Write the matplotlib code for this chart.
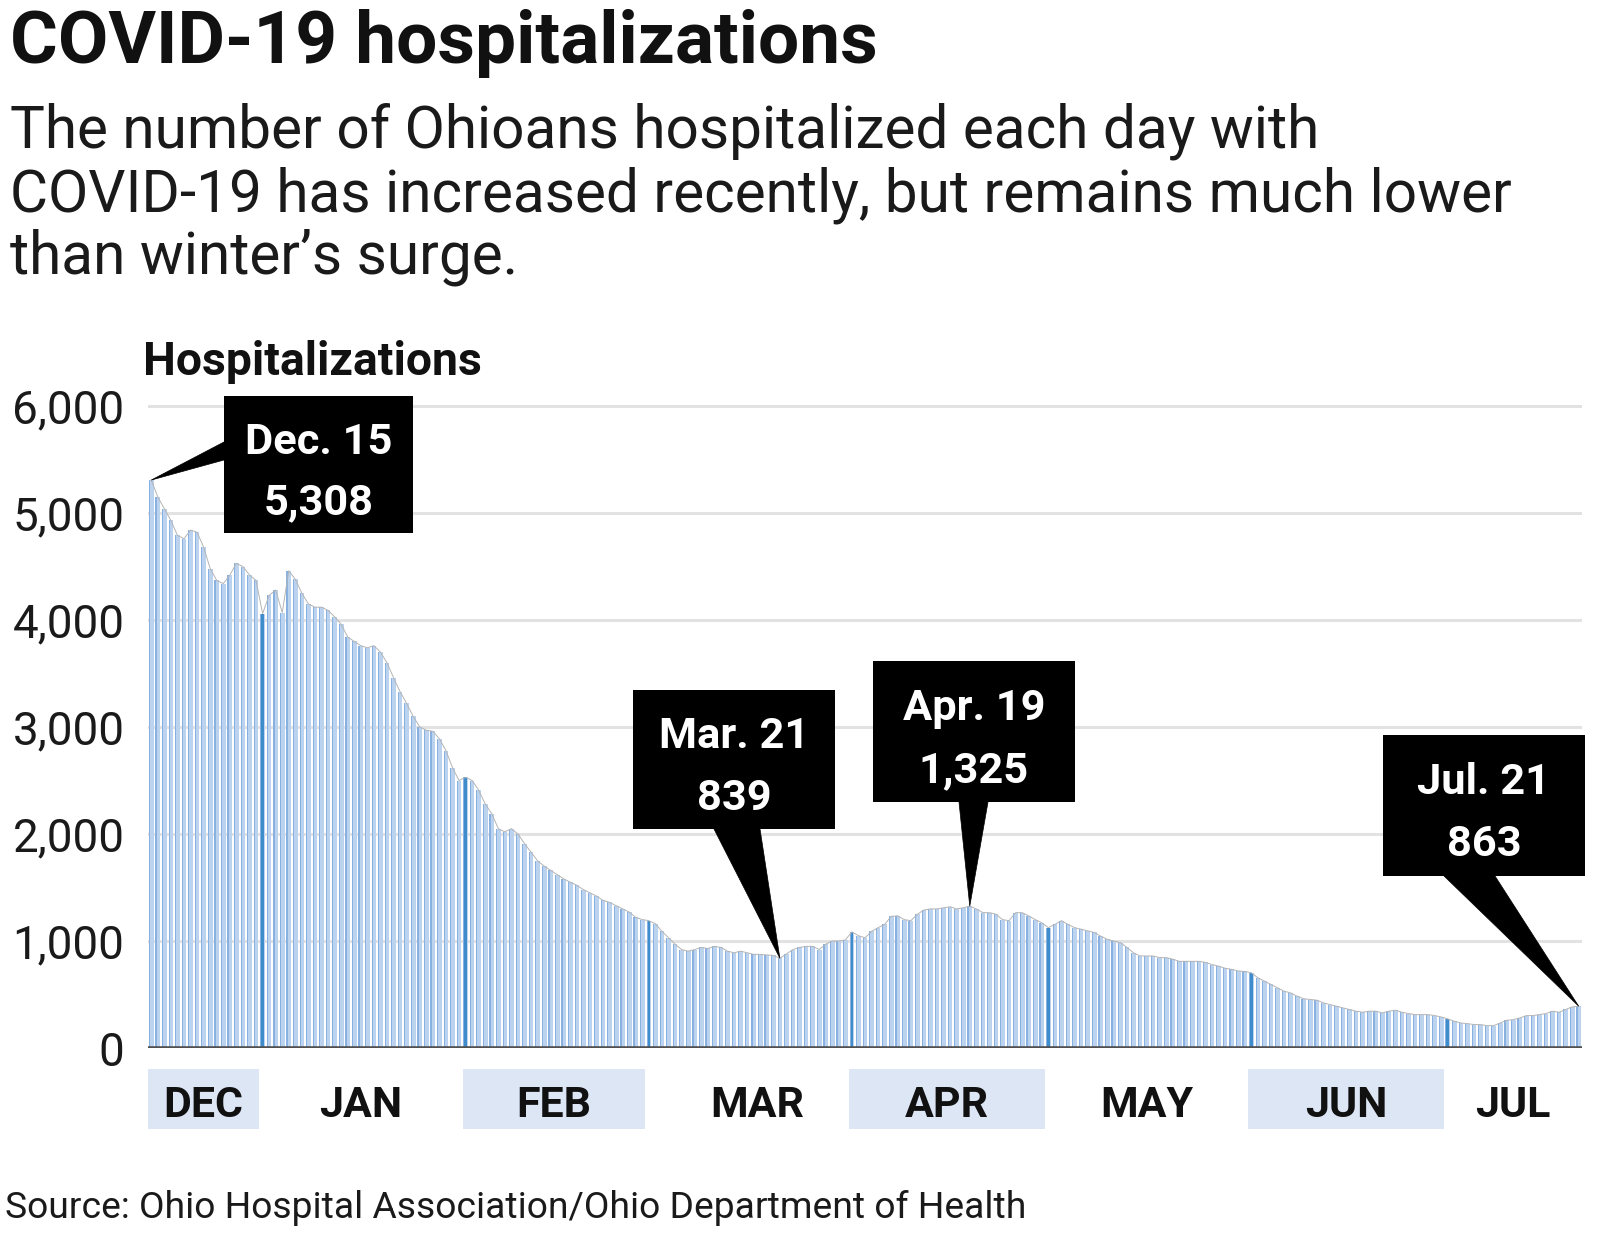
import matplotlib
matplotlib.use("Agg")
import matplotlib.pyplot as plt
from matplotlib.patches import Rectangle, Polygon
import matplotlib.transforms as mtransforms
import numpy as np

plt.rcParams['font.family'] = ['Roboto', 'DejaVu Sans']

# ---------------- data (daily hospitalizations, Dec 15 – Jul 21) ----------------
months = ["DEC", "JAN", "FEB", "MAR", "APR", "MAY", "JUN", "JUL"]
dec = [5308, 5150, 5040, 4930, 4790, 4760, 4840, 4820, 4680, 4480, 4370, 4340,
       4420, 4530, 4500, 4420, 4370]
jan = [4060, 4230, 4280, 4070, 4460, 4380, 4250, 4150, 4120, 4120, 4090, 4030,
       3960, 3840, 3800, 3760, 3740, 3760, 3700, 3600, 3460, 3330, 3220, 3100,
       3000, 2970, 2960, 2890, 2780, 2620, 2500]
feb = [2530, 2500, 2410, 2280, 2190, 2050, 2020, 2050, 2000, 1910, 1830, 1750,
       1700, 1660, 1620, 1580, 1550, 1520, 1480, 1450, 1420, 1380, 1360, 1330,
       1300, 1270, 1220, 1200]
mar = [1190, 1160, 1090, 1030, 970, 920, 905, 920, 940, 930, 950, 940, 905, 890,
       905, 890, 875, 875, 870, 865, 839, 880, 920, 940, 950, 950, 920, 970, 1000,
       1000, 1010]
apr = [1085, 1050, 1030, 1090, 1125, 1155, 1230, 1235, 1200, 1190, 1250, 1290,
       1300, 1300, 1310, 1320, 1300, 1310, 1325, 1300, 1265, 1265, 1250, 1200,
       1190, 1265, 1265, 1235, 1200, 1170]
may = [1125, 1155, 1190, 1155, 1125, 1110, 1095, 1080, 1045, 1015, 1000, 985,
       940, 890, 860, 860, 860, 845, 845, 830, 810, 810, 810, 810, 800, 780, 765,
       745, 735, 720, 715]
jun = [703, 656, 625, 594, 562, 531, 515, 484, 460, 453, 447, 422, 406, 390, 375,
       360, 344, 334, 344, 344, 328, 344, 353, 334, 322, 312, 312, 312, 303, 290]
jul = [272, 250, 234, 228, 219, 219, 209, 209, 234, 259, 265, 281, 303, 303, 312,
       322, 344, 334, 360, 384, 390]
month_series = [dec, jan, feb, mar, apr, may, jun, jul]
first_day = [15, 1, 1, 1, 1, 1, 1, 1]

y_ticks = [0, 1000, 2000, 3000, 4000, 5000, 6000]
y_tick_labels = ["0", "1,000", "2,000", "3,000", "4,000", "5,000", "6,000"]

# callouts: (line1, line2, month index, day of month)
callouts = [("Dec. 15", "5,308", 0, 15),
            ("Mar. 21", "839", 3, 21),
            ("Apr. 19", "1,325", 4, 19),
            ("Jul. 21", "863", 7, 21)]

title = "COVID-19 hospitalizations"
subtitle = ["The number of Ohioans hospitalized each day with",
            "COVID-19 has increased recently, but remains much lower",
            "than winter\u2019s surge."]
y_label = "Hospitalizations"
source = "Source: Ohio Hospital Association/Ohio Department of Health"

# ---------------- derived ----------------
values = np.concatenate([np.array(m, dtype=float) for m in month_series])
n = len(values)
x = np.arange(n)
month_len = [len(m) for m in month_series]
month_start = np.concatenate([[0], np.cumsum(month_len)[:-1]])

# ---------------- figure ----------------
W, H = 1600, 1241
fig = plt.figure(figsize=(W / 100, H / 100), dpi=100)
fig.patch.set_facecolor("white")
renderer = fig.canvas.get_renderer()


def fit_size(text, width_px, **kw):
    t = fig.text(0, 0, text, fontsize=20, **kw)
    w = t.get_window_extent(renderer).width
    t.remove()
    return 20 * width_px / w


def fy(py):
    return 1 - py / H


ax_left, ax_right, ax_bottom_px, ax_top_px = 148, 1582, 1048, 400
ax = fig.add_axes([ax_left / W, fy(ax_bottom_px), (ax_right - ax_left) / W,
                   (ax_bottom_px - ax_top_px) / H])
px_per_unit = 642 / 6000.0
ax.set_ylim(0, (ax_bottom_px - ax_top_px) / px_per_unit)
ax.set_xlim(-0.5, n - 0.5)

# bars
is_first = np.zeros(n, dtype=bool)
for i, s in enumerate(month_start):
    if first_day[i] == 1:
        is_first[s] = True
ax.bar(x, values, width=0.72, color="#bcd3f0", edgecolor="none", zorder=2)
# darker left stripe of each bar
ax.bar(x - 0.27, values, width=0.18, color="#88b1e1", edgecolor="none", zorder=2.1)
# first-of-month bars in a darker blue
ax.bar(x[is_first], values[is_first], width=0.4, color="#3f8ccc",
       edgecolor="none", zorder=2.2)
ax.plot(x, values, color="#b4b4b4", lw=0.7, zorder=3)

# grid & axes
ax.set_yticks(y_ticks)
tick_fs = fit_size("6,000", 112)
ax.set_yticklabels(y_tick_labels, fontsize=tick_fs, color="#1a1a1a")
ax.tick_params(axis="y", length=0, pad=17)
ax.set_xticks([])
ax.yaxis.grid(True, color="#e2e2e2", lw=2.2)
ax.set_axisbelow(True)
for sp in ax.spines.values():
    sp.set_visible(False)
ax.axhline(0, color="#505050", lw=2.6, zorder=4)

# month bands and labels
trans = mtransforms.blended_transform_factory(ax.transData, ax.transAxes)
axh = ax_bottom_px - ax_top_px
band_top = (ax_bottom_px - 1069) / axh
band_bot = (ax_bottom_px - 1129) / axh
label_base = (ax_bottom_px - 1117) / axh
month_fs = fit_size("DEC", 80, fontweight="bold")
for i, name in enumerate(months):
    s = month_start[i]
    e = s + month_len[i]
    if i % 2 == 0:
        ax.add_patch(Rectangle((s - 0.45, band_bot), (e - s) - 0.1, band_top - band_bot,
                               transform=trans, facecolor="#dde6f5", edgecolor="none",
                               clip_on=False, zorder=1))
    cx = (s + e - 1) / 2 + (1.5 if name == "MAR" else 0)
    ax.text(cx, label_base, name, transform=trans, ha="center",
            va="baseline", fontsize=month_fs, fontweight="bold", color="#111111")

# callouts (box geometry in pixel positions converted to data units)
def dx(px):
    return (px - ax_left) / ((ax_right - ax_left) / n) - 0.5


def dy(py):
    return (ax_bottom_px - py) / px_per_unit


boxes = [  # x0, x1, ytop, ybottom (pixels), pointer base (pixels)
    (224, 413, 396, 533, [(224, 442), (224, 460)]),
    (633, 835, 690, 829, [(714, 829), (760, 829)]),
    (873, 1075, 661, 802, [(959, 802), (988, 802)]),
    (1383, 1585, 735, 876, [(1444, 876), (1495, 876)]),
]
call_fs = fit_size("Mar. 21", 150, fontweight="bold")
for (l1, l2, mi, day), (x0, x1, yt, yb, base) in zip(callouts, boxes):
    idx = month_start[mi] + (day - first_day[mi])
    tip = (x[idx], values[idx])
    ax.add_patch(Polygon([(dx(base[0][0]), dy(base[0][1])),
                          (dx(base[1][0]), dy(base[1][1])), tip],
                         closed=True, facecolor="black", edgecolor="black", lw=0.5,
                         clip_on=False, zorder=6))
    ax.add_patch(Rectangle((dx(x0), dy(yb)), dx(x1) - dx(x0), dy(yt) - dy(yb),
                           facecolor="black", edgecolor="none", clip_on=False, zorder=6))
    cx = (dx(x0) + dx(x1)) / 2
    h = yb - yt
    ax.text(cx, dy(yt + 0.42 * h), l1, ha="center", va="baseline", color="white",
            fontsize=call_fs, fontweight="bold", zorder=7, clip_on=False)
    ax.text(cx, dy(yt + 0.86 * h), l2, ha="center", va="baseline", color="white",
            fontsize=call_fs, fontweight="bold", zorder=7, clip_on=False)

# titles and text
fig.text(10 / W, fy(63), title, fontsize=fit_size(title, 866, fontweight="bold"),
         fontweight="bold", ha="left", va="baseline", color="#111111")
sub_fs = fit_size(subtitle[1], 1500)
for line, base in zip(subtitle, [148, 211, 274]):
    fig.text(10 / W, fy(base), line, fontsize=sub_fs, ha="left", va="baseline",
             color="#1a1a1a")
fig.text(143 / W, fy(375), y_label, fontsize=fit_size(y_label, 338, fontweight="bold"),
         fontweight="bold", ha="left", va="baseline", color="#111111")
fig.text(5 / W, fy(1218), source, fontsize=fit_size(source, 1020), ha="left",
         va="baseline", color="#1a1a1a")

fig.savefig("out.png", dpi=100, facecolor="white")
